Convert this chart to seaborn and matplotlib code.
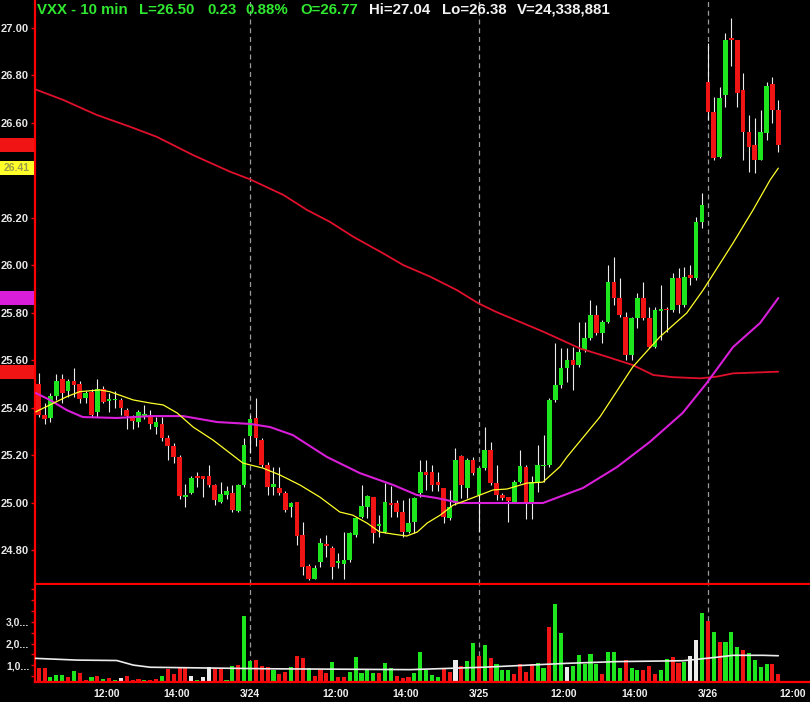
import numpy as np
import pandas as pd
import matplotlib
matplotlib.use("Agg")
import matplotlib.pyplot as plt
import matplotlib.transforms as mtransforms
from matplotlib.patches import Rectangle
from matplotlib import font_manager
import seaborn as sns

# ============================
# Datos (velas de 10 min, VXX)
# ============================
opens = [25.50, 25.37, 25.355, 25.45, 25.52, 25.47, 25.51, 25.50, 25.44, 25.465,
         25.38, 25.48, 25.428, 25.43, 25.43, 25.39, 25.36, 25.34, 25.366, 25.36,
         25.32, 25.33, 25.27, 25.24, 25.193, 25.025, 25.04, 25.112, 25.11, 25.11,
         25.073, 25.003, 25.03, 25.04, 24.965, 25.074, 25.28, 25.354, 25.263, 25.16,
         25.066, 25.06, 25.04, 24.98, 25.003, 24.863, 24.734, 24.68, 24.75, 24.825,
         24.807, 24.745, 24.741, 24.758, 24.863, 24.94, 24.983, 25.022, 24.90, 24.877,
         25.0, 25.0, 24.962, 24.877, 24.917, 25.04, 25.13, 25.13, 25.088, 25.06,
         24.933, 24.997, 25.196, 25.06, 25.179, 25.032, 25.144, 25.22, 25.081, 25.032,
         25.022, 25.004, 25.088, 25.151, 25.004, 25.084, 25.152, 25.158, 25.432, 25.495,
         25.565, 25.6, 25.579, 25.642, 25.691, 25.79, 25.712, 25.761, 25.93, 25.86,
         25.783, 25.621, 25.776, 25.86, 25.776, 25.656, 25.808, 25.811, 25.811, 25.944,
         25.832, 25.96, 25.944, 26.183, 26.772, 26.646, 26.456, 26.716, 26.95, 26.947,
         26.737, 26.561, 26.505, 26.442, 26.554, 26.761, 26.653]
highs = [25.545, 25.42, 25.46, 25.54, 25.54, 25.52, 25.565, 25.51, 25.47, 25.48,
         25.52, 25.49, 25.46, 25.47, 25.44, 25.40, 25.37, 25.39, 25.41, 25.39,
         25.36, 25.36, 25.285, 25.25, 25.20, 25.08, 25.11, 25.13, 25.11, 25.16,
         25.08, 25.088, 25.07, 25.074, 25.08, 25.27, 25.37, 25.44, 25.27, 25.17,
         25.15, 25.15, 25.05, 25.004, 25.003, 24.92, 24.74, 24.737, 24.85, 24.863,
         24.815, 24.786, 24.877, 24.877, 24.94, 25.074, 25.032, 25.025, 24.948, 25.081,
         25.07, 25.01, 25.01, 25.018, 25.022, 25.179, 25.179, 25.158, 25.13, 25.06,
         25.053, 25.228, 25.2, 25.186, 25.193, 25.148, 25.32, 25.256, 25.158, 25.04,
         25.025, 25.095, 25.221, 25.158, 25.11, 25.242, 25.284, 25.439, 25.67, 25.649,
         25.649, 25.656, 25.761, 25.761, 25.853, 25.832, 25.769, 26.0, 26.035, 25.944,
         25.804, 25.783, 25.881, 25.93, 25.825, 25.825, 25.916, 25.825, 25.965, 25.986,
         25.993, 26.0, 26.204, 26.302, 26.933, 26.709, 26.751, 26.975, 27.04, 26.947,
         26.807, 26.632, 26.618, 26.653, 26.772, 26.793, 26.695]
lows = [25.36, 25.33, 25.34, 25.43, 25.42, 25.445, 25.445, 25.42, 25.42, 25.36,
        25.36, 25.42, 25.38, 25.40, 25.37, 25.31, 25.31, 25.32, 25.35, 25.31,
        25.29, 25.26, 25.18, 25.165, 25.017, 24.98, 25.036, 25.064, 25.025, 25.066,
        24.99, 24.996, 25.017, 24.96, 24.96, 25.066, 25.21, 25.24, 25.15, 25.03,
        25.03, 25.03, 24.96, 24.94, 24.82, 24.695, 24.674, 24.676, 24.73, 24.772,
        24.68, 24.723, 24.68, 24.75, 24.856, 24.934, 24.934, 24.83, 24.856, 24.87,
        24.94, 24.94, 24.856, 24.873, 24.87, 25.025, 25.053, 25.05, 25.05, 24.912,
        24.926, 24.99, 25.018, 25.018, 25.116, 24.877, 25.137, 25.074, 25.011, 25.011,
        24.92, 24.997, 25.081, 24.93, 24.93, 25.046, 25.088, 25.151, 25.425, 25.481,
        25.509, 25.474, 25.572, 25.635, 25.684, 25.705, 25.67, 25.754, 25.832, 25.783,
        25.6, 25.6, 25.733, 25.769, 25.649, 25.649, 25.684, 25.72, 25.804, 25.797,
        25.825, 25.916, 25.937, 26.155, 26.61, 26.442, 26.449, 26.667, 26.84, 26.667,
        26.442, 26.393, 26.386, 26.442, 26.526, 26.596, 26.477]
closes = [25.37, 25.35, 25.45, 25.51, 25.46, 25.51, 25.495, 25.435, 25.46, 25.37,
          25.48, 25.425, 25.432, 25.433, 25.40, 25.365, 25.345, 25.38, 25.37, 25.33,
          25.34, 25.27, 25.24, 25.193, 25.029, 25.03, 25.105, 25.103, 25.10, 25.074,
          25.01, 25.038, 25.05, 24.97, 25.073, 25.242, 25.35, 25.27, 25.158, 25.067,
          25.076, 25.04, 24.968, 25.0, 24.86, 24.73, 24.68, 24.726, 24.828, 24.815,
          24.73, 24.755, 24.76, 24.873, 24.934, 24.985, 25.028, 24.87, 24.91, 25.004,
          24.99, 24.96, 24.877, 24.912, 25.018, 25.13, 25.116, 25.074, 25.074, 24.94,
          24.983, 25.179, 25.074, 25.179, 25.123, 25.144, 25.22, 25.081, 25.032, 25.018,
          25.008, 25.088, 25.154, 25.004, 25.088, 25.158, 25.158, 25.432, 25.495, 25.565,
          25.6, 25.579, 25.635, 25.691, 25.79, 25.712, 25.761, 25.93, 25.86, 25.79,
          25.621, 25.776, 25.86, 25.776, 25.656, 25.811, 25.811, 25.809, 25.944, 25.832,
          25.951, 25.944, 26.183, 26.253, 26.646, 26.449, 26.702, 26.947, 26.947, 26.723,
          26.561, 26.498, 26.442, 26.561, 26.754, 26.653, 26.505]

# volumen en millones y color de barra (g = sube, r = baja, w = sin cambio)
volume = [0.86, 0.86, 0.48, 0.56, 0.56, 0.48, 0.74, 0.66, 0.33, 0.48,
          0.51, 0.39, 0.43, 0.33, 0.40, 0.51, 0.33, 0.39, 0.33, 0.33,
          0.39, 0.51, 0.82, 0.59, 0.90, 0.86, 0.51, 0.33, 0.45, 0.91,
          0.86, 0.86, 0.33, 0.97, 1.02, 3.25, 1.20, 1.25, 0.97, 0.94,
          0.79, 0.59, 0.71, 0.91, 1.43, 1.33, 0.86, 0.51, 0.83, 0.63,
          1.17, 0.48, 0.45, 0.71, 1.37, 0.66, 0.83, 0.63, 0.63, 1.09,
          0.86, 0.51, 0.40, 0.48, 0.66, 1.63, 0.76, 0.56, 0.45, 0.82,
          0.71, 1.25, 0.97, 1.22, 2.02, 1.43, 1.94, 1.33, 1.05, 0.79,
          0.79, 0.60, 1.05, 0.71, 1.05, 1.09, 0.86, 2.78, 3.83, 2.51,
          0.94, 0.97, 1.48, 1.06, 1.52, 1.06, 0.60, 1.60, 1.60, 0.86,
          1.25, 0.86, 0.76, 0.79, 0.97, 0.60, 0.79, 1.29, 1.40, 1.09,
          1.17, 1.45, 2.17, 3.43, 3.06, 2.52, 2.09, 2.09, 2.52, 1.86,
          1.71, 1.56, 1.25, 0.94, 1.05, 1.05, 0.59]
vol_dir = list("rrgggrgrrgr" "grgwrrrgrrg" "rrrrwgwwrrg" "grggrrrgrrg"
               "rrgrrrgrrgg" "gggrggrrrgg" "gggrrwrggrg" "rgggrrrrggr"
               "ggwgggggrgg" "grggrrrggrr" "gwwgrgrgggr" "ggggrrrrggrr")

# medias moviles (posicion de barra, valor leido)
ma_red_x = [-0.6, 4.2, 9.9, 15.6, 20.1, 26.3, 32.6, 36, 41.7, 45.7, 49.6, 53.6, 58.7, 62.1,
            66.7, 71.2, 74.9, 77.9, 86, 92.2, 96.8, 101.2, 104.7, 108, 112.7, 115.5, 118.3, 126]
ma_red_y = [26.740, 26.695, 26.632, 26.582, 26.540, 26.463, 26.393, 26.361, 26.295, 26.232,
            26.182, 26.119, 26.049, 26.0, 25.951, 25.895, 25.839, 25.803, 25.719, 25.649,
            25.614, 25.579, 25.537, 25.528, 25.523, 25.530, 25.544, 25.551]
ma_yel_x = [-0.5, 1.9, 4.8, 7.0, 10.4, 12.1, 16.1, 19.0, 21.2, 23.6, 26.3, 29.7, 32.6, 34.8,
            38.2, 41.1, 44.5, 47.9, 51.3, 53.5, 55.9, 58.1, 60.4, 62.7, 64.5, 66.2, 68.4, 70.6,
            73.0, 75.2, 77.4, 79.8, 83.2, 85.9, 88.8, 90.0, 95.6, 101.2, 105.8, 110.4, 113.2,
            118.3, 121.7, 124.6, 126]
ma_yel_y = [25.382, 25.411, 25.446, 25.467, 25.474, 25.467, 25.432, 25.419, 25.411, 25.377,
            25.318, 25.263, 25.208, 25.166, 25.145, 25.116, 25.074, 25.023, 24.960, 24.947,
            24.914, 24.876, 24.867, 24.859, 24.876, 24.914, 24.947, 24.989, 25.011, 25.032,
            25.053, 25.057, 25.082, 25.086, 25.151, 25.192, 25.360, 25.571, 25.697, 25.798,
            25.895, 26.093, 26.232, 26.358, 26.408]
ma_mag_x = [-0.5, 1.9, 4.8, 7.5, 13.3, 19.0, 24.6, 30.4, 36, 39.4, 43.3, 49.1, 54.7, 60.4,
            64.4, 67.8, 71.8, 77.4, 83.7, 85.9, 92.7, 98.5, 104.1, 109.7, 113.8, 118.3,
            122.9, 126]
ma_mag_y = [25.461, 25.432, 25.389, 25.360, 25.356, 25.364, 25.364, 25.339, 25.331, 25.318,
            25.284, 25.192, 25.124, 25.074, 25.032, 25.019, 24.998, 24.998, 24.998, 24.998,
            25.061, 25.149, 25.255, 25.377, 25.503, 25.655, 25.756, 25.861]
vol_avg_x = [-0.6, 6.5, 13.3, 16.1, 19, 38.8, 63.3, 75.7, 90, 98.5, 109.8, 115.5, 118.3, 123.4, 126]
vol_avg_y = [1.32, 1.24, 1.22, 1.01, 0.91, 0.84, 0.80, 0.91, 1.09, 1.17, 1.21, 1.37, 1.46, 1.46, 1.44]

day_starts = [36, 75, 114]
tick_pos = [11.5, 23.5, 36, 50.5, 62.5, 75, 89.5, 101.5, 114, 128.5]
tick_lab = ['12:00', '14:00', '3/24', '12:00', '14:00', '3/25', '12:00', '14:00', '3/26', '12:00']

GREEN = '#1ee61e'
RED = '#f01414'
WHITE = '#ececec'
YELLOW = '#ffff2a'
MAGENTA = '#d81ed8'
MA_RED = '#e0102c'

sns.set_style("dark", {"axes.facecolor": "black"})
plt.rcParams['font.family'] = ['Liberation Sans', 'DejaVu Sans']

W, H = 810, 720
fig = plt.figure(figsize=(W / 100, H / 100), dpi=100, facecolor='white')
fig.patches.append(Rectangle((0, 18 / H), 1, 702 / H, transform=fig.transFigure,
                             facecolor='black', edgecolor='none', zorder=-1))

ax = fig.add_axes([35 / W, 1 - 584 / H, 775 / W, 584 / H])
axv = fig.add_axes([35 / W, 1 - 682 / H, 775 / W, 97 / H])

# ============================
# Velas
# ============================
df = pd.DataFrame({'o': opens, 'h': highs, 'l': lows, 'c': closes})
df['i'] = np.arange(len(df))
up = df.c >= df.o
ax.vlines(df.i, df.l, df.h, color=WHITE, lw=0.8, zorder=2)
body = np.maximum((df.c - df.o).abs(), 0.007)
ax.bar(df.i, body, bottom=np.minimum(df.o, df.c), width=0.8,
       color=np.where(up, GREEN, RED), edgecolor='none', linewidth=0, zorder=3)

sns.lineplot(x=ma_red_x, y=ma_red_y, ax=ax, color=MA_RED, lw=1.3, sort=False, estimator=None, zorder=4)
sns.lineplot(x=ma_mag_x, y=ma_mag_y, ax=ax, color=MAGENTA, lw=1.5, sort=False, estimator=None, zorder=4)
sns.lineplot(x=ma_yel_x, y=ma_yel_y, ax=ax, color=YELLOW, lw=0.9, sort=False, estimator=None, zorder=4)

# ============================
# Volumen
# ============================
cmap = {'g': GREEN, 'r': RED, 'w': WHITE}
axv.bar(df.i, volume, width=0.7, color=[cmap[d] for d in vol_dir],
        edgecolor='none', linewidth=0, zorder=2)
sns.lineplot(x=vol_avg_x, y=vol_avg_y, ax=axv, color=WHITE, lw=1.2, sort=False, estimator=None, zorder=3)

for a in (ax, axv):
    a.set_facecolor('black')
    a.grid(False)
    a.set_xlim(-0.63, 131.4)
    a.set_xlabel('')
    a.set_ylabel('')
    for s in ('top', 'right'):
        a.spines[s].set_visible(False)
    for s in ('left', 'bottom'):
        a.spines[s].set_color('red')
        a.spines[s].set_linewidth(1.6)
    for d in day_starts:
        a.axvline(d, color='#9a9a9a', lw=0.9, ls=(0, (4, 3)), zorder=1)

ax.set_ylim(24.657, 27.116)
yt = np.round(np.arange(24.8, 27.01, 0.2), 2)
ax.set_yticks(yt)
# la etiqueta 26.40 queda tapada por el marcador amarillo
ax.set_yticklabels(['' if abs(v - 26.4) < 1e-6 else f"{v:.2f}" for v in yt])
ax.tick_params(axis='y', left=True, color='red', labelcolor='#e6e6e6', length=3, width=1,
               pad=1.5, labelsize=8)
ax.tick_params(axis='x', bottom=False, labelbottom=False)
for lab in ax.get_yticklabels():
    lab.set_fontweight('bold')

axv.set_ylim(0.23, 4.70)
axv.set_yticks([1, 2, 3])
axv.set_yticklabels(['1,0...', '2,0...', '3,0...'])
axv.set_yticks(np.arange(0.5, 4.6, 0.5), minor=True)
axv.tick_params(axis='y', which='both', left=True, color='red', labelcolor='#e6e6e6',
                length=3, width=1, pad=1, labelsize=7.5)
axv.set_xticks(tick_pos)
axv.set_xticklabels(tick_lab)
axv.tick_params(axis='x', bottom=False, length=0, pad=5, labelcolor='#f0f0f0', labelsize=7.5)
for lab in axv.get_yticklabels() + axv.get_xticklabels():
    lab.set_fontweight('bold')

# marcadores de ultimo valor en el eje de precios
trans = mtransforms.blended_transform_factory(ax.transAxes, ax.transData)
bh = 0.03
for val, col in [(closes[-1], RED), (ma_yel_y[-1], YELLOW), (ma_mag_y[-1], MAGENTA), (ma_red_y[-1], RED)]:
    ax.add_patch(Rectangle((-35 / 775, val - bh), 34 / 775, 2 * bh, transform=trans,
                           facecolor=col, edgecolor='none', clip_on=False, zorder=6))
ax.text(-18 / 775, ma_yel_y[-1], f"{ma_yel_y[-1]:.2f}", transform=trans, ha='center', va='center',
        color='#9c9c48', fontsize=7.5, fontweight='bold', zorder=7, clip_on=False)

# ============================
# Titulo
# ============================
names = {f.name for f in font_manager.fontManager.ttflist}
narrow = 'Liberation Sans Narrow' in names
tfam = ['Liberation Sans Narrow', 'Liberation Sans'] if narrow else ['Liberation Sans']
tsize = 12.5 if narrow else 10.8
title_parts = [("VXX - 10 min", 37, '#30e830'), ("L=26.50", 139, '#30e830'),
               ("0.23", 207, '#30e830'), ("0.88%", 245, '#30e830'),
               ("O=26.77", 300, '#30e830'), ("Hi=27.04", 369, '#f2f2f2'),
               ("Lo=26.38", 442, '#f2f2f2'), ("V=24,338,881", 517, '#f2f2f2')]
for txt, xp, col in title_parts:
    fig.text(xp / W, 1 - 10 / H, txt, color=col, fontsize=tsize, fontweight='bold',
             family=tfam, ha='left', va='center')

fig.savefig("out.png", dpi=100, facecolor=fig.get_facecolor())
